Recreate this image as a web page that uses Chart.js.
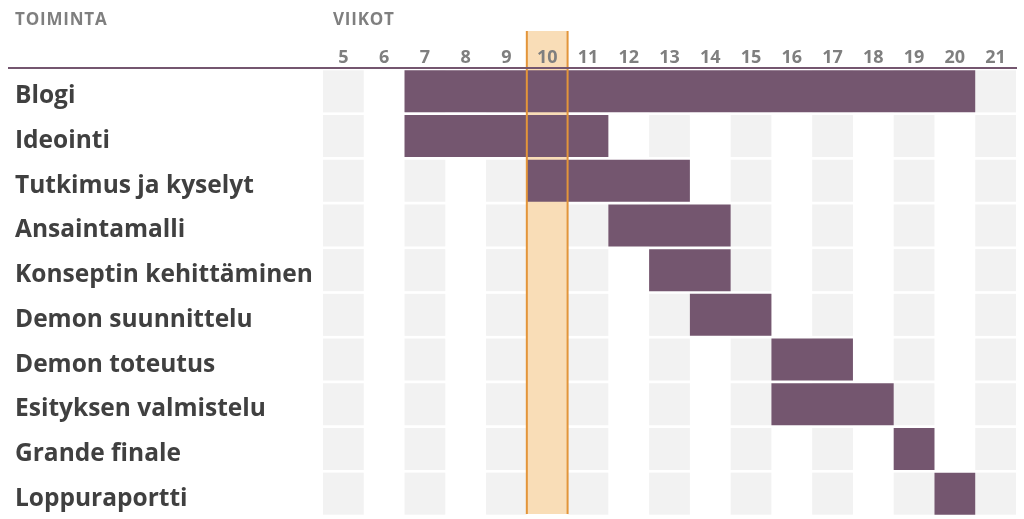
<!DOCTYPE html>
<html>
<head>
<meta charset="utf-8">
<script src="https://cdn.jsdelivr.net/npm/chart.js"></script>
<style>
  html, body { margin: 0; padding: 0; background: #fff; }
</style>
</head>
<body>
<canvas id="gantt" width="1024" height="519"></canvas>
<script>
let tehtavat = ['Blogi', 'Ideointi', 'Tutkimus ja kyselyt', 'Ansaintamalli', 'Konseptin kehittäminen',
  'Demon suunnittelu', 'Demon toteutus', 'Esityksen valmistelu', 'Grande finale', 'Loppuraportti'];
let alkuViikko = [7, 7, 10, 12, 13, 14, 16, 16, 19, 20];
let loppuViikko = [20, 11, 13, 14, 14, 15, 17, 18, 19, 20];
let viikot = [5, 6, 7, 8, 9, 10, 11, 12, 13, 14, 15, 16, 17, 18, 19, 20, 21];
let nykyViikko = 10;

let palkit = tehtavat.map(function(t, i){
  return [alkuViikko[i] - 0.5, loppuViikko[i] + 0.5];
});

const fontti = 'Open Sans';
const palkkiOsuus = 0.94;

// grey week cells + current week highlight behind everything
const taustaPlugin = {
  id: 'tausta',
  beforeDraw(chart){
    const ctx = chart.ctx, x = chart.scales.x, y = chart.scales.y, ca = chart.chartArea;
    const rivi = (y.getPixelForValue(1) - y.getPixelForValue(0)) * palkkiOsuus;
    ctx.save();
    ctx.fillStyle = '#f2f2f2';
    tehtavat.forEach(function(t, i){
      const yc = y.getPixelForValue(i);
      viikot.forEach(function(w){
        if (w % 2 === 1 && w !== nykyViikko) {
          const x0 = x.getPixelForValue(w - 0.5), x1 = x.getPixelForValue(w + 0.5);
          ctx.fillRect(x0, yc - rivi / 2, x1 - x0, rivi);
        }
      });
    });
    const n0 = x.getPixelForValue(nykyViikko - 0.5), n1 = x.getPixelForValue(nykyViikko + 0.5);
    ctx.fillStyle = '#f9ddb7';
    ctx.fillRect(n0, 31, n1 - n0, ca.bottom - 2 - 31);
    ctx.restore();
  },
  afterDatasetsDraw(chart){
    const ctx = chart.ctx, x = chart.scales.x, ca = chart.chartArea;
    const n0 = x.getPixelForValue(nykyViikko - 0.5), n1 = x.getPixelForValue(nykyViikko + 0.5);
    ctx.save();
    ctx.strokeStyle = '#e3953a';
    ctx.lineWidth = 2;
    ctx.beginPath();
    ctx.moveTo(n0, 31); ctx.lineTo(n0, ca.bottom - 2);
    ctx.moveTo(n1, 31); ctx.lineTo(n1, ca.bottom - 2);
    ctx.stroke();
    // header line
    ctx.strokeStyle = '#74566f';
    ctx.beginPath();
    ctx.moveTo(8, ca.top - 1); ctx.lineTo(1017, ca.top - 1);
    ctx.stroke();
    // column headers
    ctx.fillStyle = '#7f7f7f';
    ctx.font = 'bold 17px ' + fontti;
    ctx.letterSpacing = '0.8px';
    ctx.textBaseline = 'middle';
    ctx.textAlign = 'left';
    ctx.fillText('TOIMINTA', 15, 20);
    ctx.fillText('VIIKOT', 333, 20);
    ctx.restore();
  }
};

var ctx = document.getElementById('gantt').getContext('2d');
var chart = new Chart(ctx, {
  type: 'bar',
  data: {
    labels: tehtavat,
    datasets: [{
      label: 'Viikot',
      data: palkit,
      backgroundColor: '#74566f',
      borderWidth: 0,
      borderSkipped: false,
      categoryPercentage: 1,
      barPercentage: palkkiOsuus
    }]
  },
  options: {
    indexAxis: 'y',
    responsive: false,
    animation: false,
    layout: { padding: { left: 15, right: 8, top: 0, bottom: 3 } },
    plugins: { legend: { display: false }, tooltip: { enabled: false } },
    scales: {
      x: {
        position: 'top',
        min: 4.5,
        max: 21.5,
        afterBuildTicks: function(scale){
          scale.ticks = viikot.map(function(v){ return { value: v }; });
        },
        afterFit: function(scale){ scale.height = 69; scale.paddingLeft = 0; scale.paddingRight = 0; },
        grid: { display: false, drawTicks: false },
        border: { display: false },
        ticks: {
          color: '#7f7f7f',
          font: { family: fontti, size: 18, weight: 'bold' },
          padding: 0,
          autoSkip: false,
          maxRotation: 0
        }
      },
      y: {
        afterFit: function(scale){ scale.width = 308; scale.paddingTop = 0; scale.paddingBottom = 0; },
        grid: { display: false, drawTicks: false },
        border: { display: false },
        ticks: {
          crossAlign: 'far',
          padding: 0,
          labelOffset: 5,
          color: '#404040',
          font: { family: fontti, size: 24.5, weight: 'bold' }
        }
      }
    }
  },
  plugins: [taustaPlugin]
});
</script>
</body>
</html>
